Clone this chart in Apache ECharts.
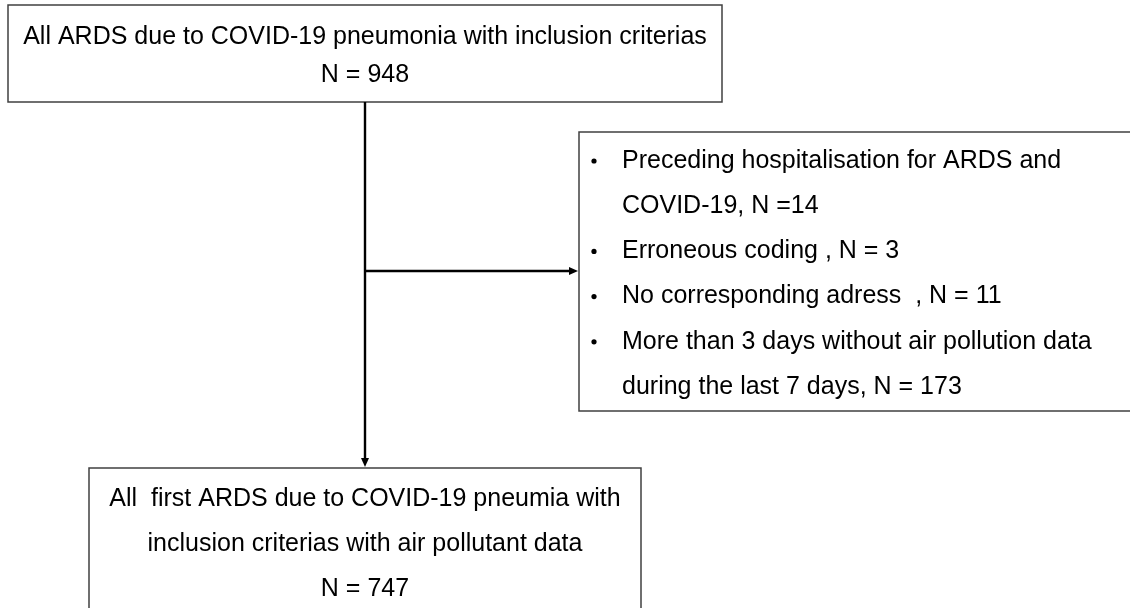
<!DOCTYPE html>
<html>
<head>
<meta charset="utf-8">
<script src="https://cdn.jsdelivr.net/npm/echarts@6/dist/echarts.min.js"></script>
<style>
  html, body { margin: 0; padding: 0; background: #fff; }
  #chart { width: 1130px; height: 608px; }
</style>
</head>
<body>
<div id="chart"></div>
<script>
  // flow counts
  const nAll = 948
  const exclusionCounts = [14, 3, 11, 173]
  const nFinal = 747

  // box texts
  const topLines = ['All ARDS due to COVID-19 pneumonia with inclusion criterias', 'N = ' + nAll]
  const exclusionItems = [
    ['Preceding hospitalisation for ARDS and', 'COVID-19, N =' + exclusionCounts[0]],
    ['Erroneous coding , N = ' + exclusionCounts[1]],
    ['No corresponding adress  , N = ' + exclusionCounts[2]],
    ['More than 3 days without air pollution data', 'during the last 7 days, N = ' + exclusionCounts[3]]
  ]
  const bottomLines = ['All  first ARDS due to COVID-19 pneumia with', 'inclusion criterias with air pollutant data', 'N = ' + nFinal]

  const FONT = '25px "Liberation Sans", Arial, sans-serif'
  const BORDER = '#404040'

  let chart = echarts.init(document.getElementById('chart'))

  function textEl (str, x, y, align) {
    return {
      type: 'text',
      style: {
        text: str, x: x, y: y, font: FONT, fill: '#000',
        align: align || 'center', verticalAlign: 'middle',
        textAlign: align || 'center', textVerticalAlign: 'middle'
      }
    }
  }
  function boxEl (x, y, w, h) {
    return {
      type: 'rect',
      shape: { x: x, y: y, width: w, height: h },
      style: { fill: '#fff', stroke: BORDER, lineWidth: 1.5 }
    }
  }

  let els = []
  // top box
  els.push(boxEl(8, 5, 714, 97))
  els.push(textEl(topLines[0], 365, 37))
  els.push(textEl(topLines[1], 365, 75))

  // exclusion box (runs off the right edge)
  els.push(boxEl(579, 132, 600, 279))
  let lineY = 161
  exclusionItems.forEach(item => {
    els.push({ type: 'circle', shape: { cx: 594, cy: lineY, r: 2.6 }, style: { fill: '#000' } })
    item.forEach(s => {
      els.push(textEl(s, 622, lineY, 'left'))
      lineY += 45.2
    })
  })

  // bottom box
  els.push(boxEl(89, 468, 552, 160))
  bottomLines.forEach((s, i) => {
    els.push(textEl(s, 365, 499 + i * 45))
  })

  // connectors
  els.push({ type: 'line', shape: { x1: 365, y1: 102, x2: 365, y2: 460 }, style: { stroke: '#000', lineWidth: 2.4 } })
  els.push({ type: 'polygon', shape: { points: [[361, 458], [369, 458], [365, 467]] }, style: { fill: '#000' } })
  els.push({ type: 'line', shape: { x1: 365, y1: 271, x2: 571, y2: 271 }, style: { stroke: '#000', lineWidth: 2.4 } })
  els.push({ type: 'polygon', shape: { points: [[569, 267], [569, 275], [578, 271]] }, style: { fill: '#000' } })

  chart.setOption({
    backgroundColor: '#fff',
    animation: false,
    graphic: { elements: els }
  })
</script>
</body>
</html>
